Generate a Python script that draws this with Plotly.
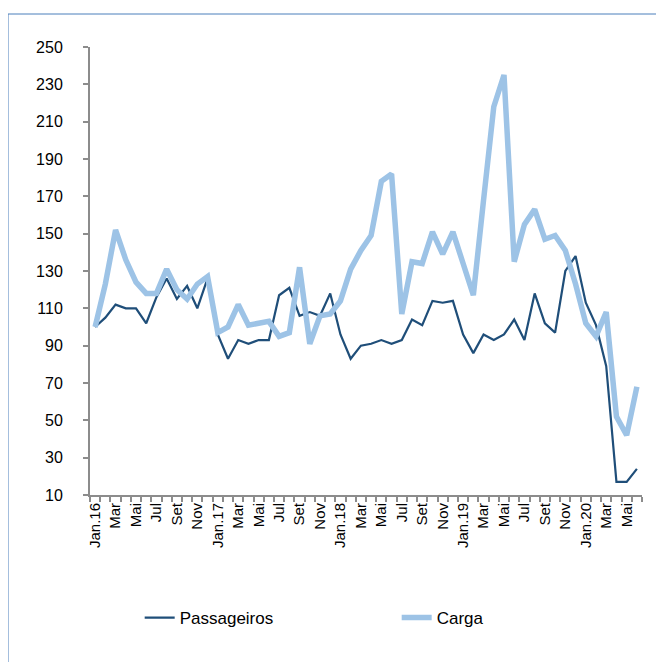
import plotly.graph_objects as go

# monthly index, Jan.16 = 100
months = list(range(54))
tick_pos = list(range(0, 54, 2))
tick_text = ["Jan.16", "Mar", "Mai", "Jul", "Set", "Nov",
             "Jan.17", "Mar", "Mai", "Jul", "Set", "Nov",
             "Jan.18", "Mar", "Mai", "Jul", "Set", "Nov",
             "Jan.19", "Mar", "Mai", "Jul", "Set", "Nov",
             "Jan.20", "Mar", "Mai"]

passageiros = [100, 105, 112, 110, 110, 102, 116, 126, 115, 122, 110, 126,
               96, 83, 93, 91, 93, 93, 117, 121, 106, 108, 106, 118,
               96, 83, 90, 91, 93, 91, 93, 104, 101, 114, 113, 114,
               96, 86, 96, 93, 96, 104, 93, 118, 102, 97, 130, 138,
               113, 101, 79, 17, 17, 24]

carga = [100, 123, 152, 136, 124, 118, 118, 131, 120, 115, 123, 127,
         97, 100, 112, 101, 102, 103, 95, 97, 132, 91, 106, 107,
         114, 131, 141, 149, 178, 182, 107, 135, 134, 151, 139, 151,
         134, 117, 168, 218, 235, 135, 155, 163, 147, 149, 141, 123,
         102, 95, 108, 52, 42, 68]

fig = go.Figure()
fig.add_trace(go.Scatter(x=months, y=passageiros, mode="lines", name="Passageiros",
                         line=dict(color="#1F4E79", width=2.2)))
fig.add_trace(go.Scatter(x=months, y=carga, mode="lines", name="Carga",
                         line=dict(color="#9DC3E6", width=5.5)))

# page has 8px body margin, plot area in figure px: x 82..634, y 39..487
fig.add_shape(type="rect", xref="paper", yref="paper",
              x0=(0 - 82) / 552, x1=(700 - 82) / 552,
              y0=(487 - 700) / 448, y1=(487 - 6) / 448,
              line=dict(color="#4A7EBB", width=1))

fig.update_layout(
    width=656, height=654,
    margin=dict(l=82, r=22, t=39, b=167, autoexpand=False),
    paper_bgcolor="white", plot_bgcolor="white",
    font=dict(family="Liberation Sans, Arial", color="black", size=15),
    legend=dict(orientation="h", x=0.09, y=-0.2746, xanchor="left", yanchor="middle",
                font=dict(size=17), entrywidth=212, entrywidthmode="pixels"),
    showlegend=True,
)
fig.update_xaxes(
    range=[-0.5, 53.5], tickmode="array", tickvals=tick_pos, ticktext=tick_text,
    tickangle=-90, ticks="", showgrid=False, zeroline=False,
    showline=True, linecolor="#8C8C8C", linewidth=2,
    tickfont=dict(size=15),
    minor=dict(tickmode="linear", tick0=-0.5, dtick=1, ticks="outside",
               ticklen=5, tickcolor="#8C8C8C", tickwidth=1.5, showgrid=False),
)
fig.update_yaxes(
    range=[10, 250], tickmode="linear", tick0=10, dtick=20,
    ticks="outside", ticklen=5, tickcolor="#8C8C8C", tickwidth=1.5,
    showgrid=False, zeroline=False, ticklabelstandoff=17,
    showline=True, linecolor="#8C8C8C", linewidth=2,
    tickfont=dict(size=16),
)

fig.write_html("out.html")
